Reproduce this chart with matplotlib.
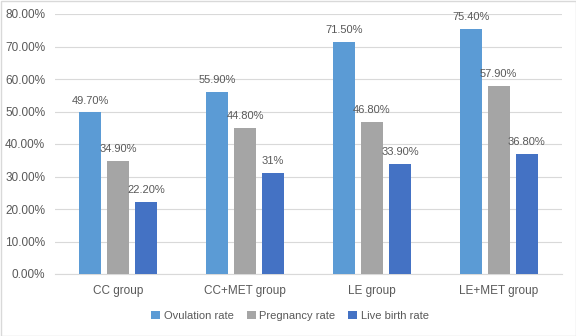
import matplotlib
matplotlib.use("Agg")
import matplotlib.pyplot as plt
import numpy as np
from matplotlib.ticker import FuncFormatter

categories = ["CC group", "CC+MET group", "LE group", "LE+MET group"]
ovulation = [49.7, 55.9, 71.5, 75.4]
pregnancy = [34.9, 44.8, 46.8, 57.9]
live_birth = [22.2, 31.0, 33.9, 36.8]
label_ov = ["49.70%", "55.90%", "71.50%", "75.40%"]
label_pr = ["34.90%", "44.80%", "46.80%", "57.90%"]
label_lb = ["22.20%", "31%", "33.90%", "36.80%"]
series_names = ["Ovulation rate", "Pregnancy rate", "Live birth rate"]
colors = ["#5B9BD5", "#A5A5A5", "#4472C4"]

plt.rcParams['font.family'] = ['Liberation Sans', 'DejaVu Sans']
txt = "#595959"
fs = 8.5
fs_small = 8

fig = plt.figure(figsize=(5.76, 3.36), dpi=100)
ax = fig.add_axes([55/576, 1-274/336, 507/576, 260/336])

x = np.arange(len(categories))
w = 0.174
step = 28/126.75
series = [ovulation, pregnancy, live_birth]
labels = [label_ov, label_pr, label_lb]
for i, (vals, labs, c, n) in enumerate(zip(series, labels, colors, series_names)):
    pos = x + (i - 1) * step
    bars = ax.bar(pos, vals, width=w, color=c, label=n, zorder=3)
    for p, v, l in zip(pos, vals, labs):
        ax.annotate(l, (p, v), xytext=(0, 5), textcoords="offset points",
                    ha="center", va="bottom", fontsize=fs_small, color=txt, zorder=4)

ax.set_xlim(-0.5, len(categories) - 0.5)
ax.set_ylim(0, 80)
ax.set_yticks(np.arange(0, 81, 10))
ax.yaxis.set_major_formatter(FuncFormatter(lambda v, p: f"{v:.2f}%"))
ax.set_xticks(x)
ax.set_xticklabels(categories)
ax.tick_params(axis='both', length=0, labelsize=fs, colors=txt)
ax.tick_params(axis='y', pad=7)
ax.tick_params(axis='x', pad=8)
ax.grid(axis='y', color="#D9D9D9", linewidth=0.8, zorder=0)
for s in ["top", "right", "left"]:
    ax.spines[s].set_visible(False)
ax.spines["bottom"].set_color("#D9D9D9")
ax.spines["bottom"].set_linewidth(0.8)

leg = fig.legend(loc="center", bbox_to_anchor=(290/576, 1-316/336), ncol=3,
                 frameon=False, fontsize=fs_small, handlelength=0.8, handleheight=0.8,
                 handletextpad=0.3, columnspacing=1.2)
for t in leg.get_texts():
    t.set_color(txt)

border = plt.Rectangle((0.5/576, 0.5/336), 1 - 1/576, 1 - 1/336, transform=fig.transFigure,
                       fill=False, edgecolor="#D9D9D9", linewidth=1)
fig.patches.append(border)

fig.savefig("out.png", dpi=100)
